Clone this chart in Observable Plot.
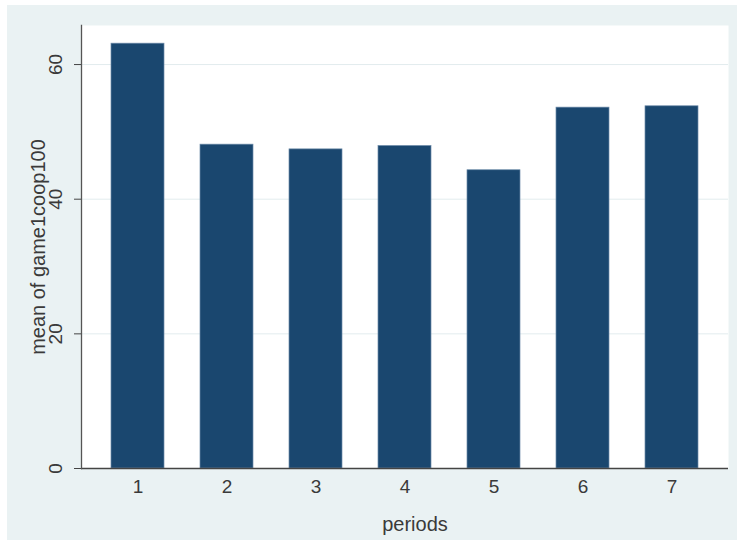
<!DOCTYPE html>
<html>
<head>
<meta charset="utf-8">
<script src="https://cdn.jsdelivr.net/npm/d3@7"></script>
<script src="https://cdn.jsdelivr.net/npm/@observablehq/plot@0.6"></script>
<style>
  html, body { margin: 0; padding: 0; background: #ffffff; }
  #wrap { position: absolute; left: 7px; top: 5px; width: 730px; height: 535px; background: #eaf2f3; }
  #wrap svg { display: block; background: transparent; }
</style>
</head>
<body>
<div id="wrap"></div>
<script>
const periods = ["1", "2", "3", "4", "5", "6", "7"];
const means = [63.1, 48.1, 47.4, 47.9, 44.3, 53.6, 53.8];
const yTicks = [0, 20, 40, 60];
const gridTicks = [20, 40, 60];
const xTitle = "periods";
const yTitle = "mean of game1coop100";

const data = periods.map((p, i) => ({period: p, mean: means[i]}));
const font = "'Liberation Sans', Arial, sans-serif";

const chart = Plot.plot({
  width: 730,
  height: 535,
  marginLeft: 74,
  marginRight: 9,
  marginTop: 20,
  marginBottom: 72,
  style: {fontFamily: font, fontSize: "19px", color: "#333", background: "transparent"},
  x: {type: "band", domain: periods, paddingInner: 0.405, paddingOuter: 0.33, label: null},
  y: {domain: [0, 65.8], label: null},
  marks: [
    Plot.frame({fill: "white", stroke: null}),
    Plot.gridY(gridTicks, {stroke: "#e2ecee", strokeOpacity: 1, strokeWidth: 1}),
    Plot.barY(data, {x: "period", y: "mean", fill: "#1a476f", stroke: "#6d8ba8", strokeWidth: 0.7}),
    Plot.axisY(yTicks, {tickSize: 7, tickPadding: 13, tickRotate: -90, stroke: "#444", fill: "#3a3a3a", label: null, fontSize: 19}),
    Plot.axisX({tickSize: 0, tickPadding: 11, fill: "#3a3a3a", label: null, fontSize: 19}),
    Plot.ruleY([0], {stroke: "#444", strokeWidth: 1.3}),
    Plot.frame({anchor: "left", stroke: "#555", strokeWidth: 1.3}),
    Plot.text([xTitle], {frameAnchor: "bottom", text: d => d, dy: 62, dx: 10, lineAnchor: "bottom", fill: "#3a3a3a", fontSize: 20}),
    Plot.text([yTitle], {frameAnchor: "left", text: d => d, dx: -37, rotate: -90, textAnchor: "middle", lineAnchor: "bottom", fill: "#3a3a3a", fontSize: 20})
  ]
});
document.getElementById("wrap").appendChild(chart);
</script>
</body>
</html>
